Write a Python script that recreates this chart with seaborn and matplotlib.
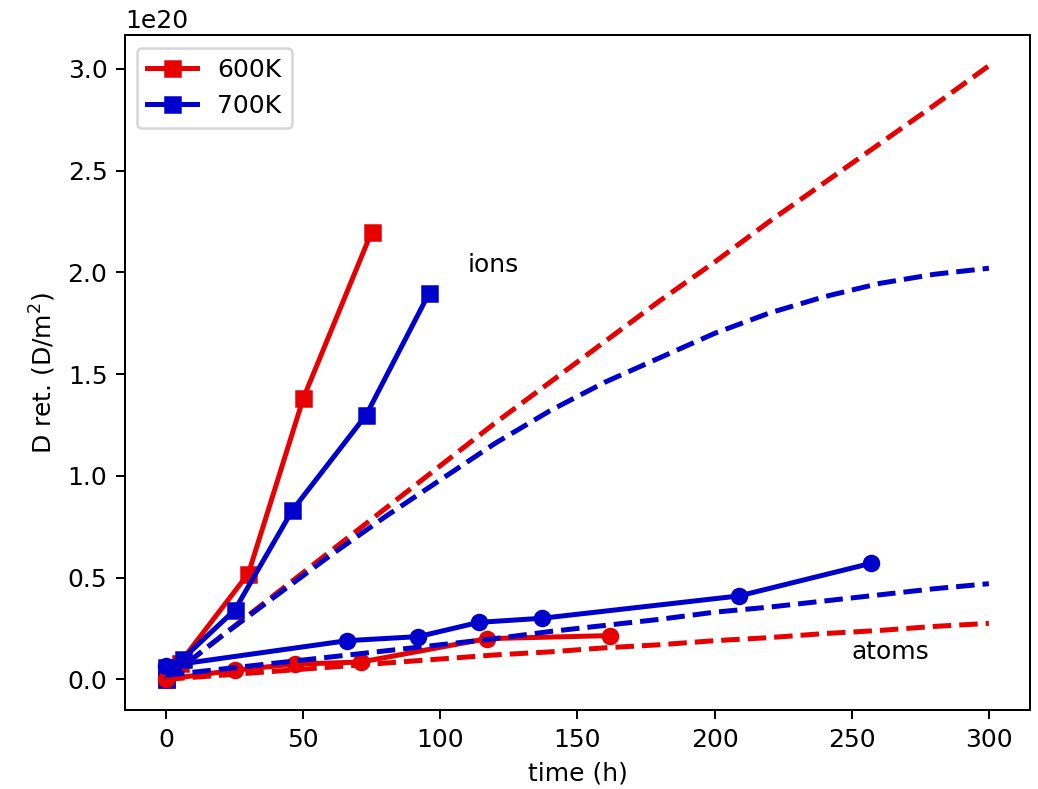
import matplotlib
matplotlib.use("Agg")
import matplotlib.pyplot as plt
import seaborn as sns
import pandas as pd

RED = "#e60000"
BLUE = "#0000cc"
SCALE = 1e20

# Measured retention, ion exposure (squares)
ions_600_t = [0, 5, 30, 50, 75]
ions_600_d = [0.0, 0.08, 0.52, 1.38, 2.20]
ions_700_t = [0, 0, 6, 25, 46, 73, 96]
ions_700_d = [0.0, 0.06, 0.10, 0.34, 0.83, 1.30, 1.90]

# Measured retention, atom exposure (circles)
atoms_600_t = [0, 25, 47, 71, 117, 162]
atoms_600_d = [0.0, 0.045, 0.075, 0.085, 0.20, 0.215]
atoms_700_t = [0, 66, 92, 114, 137, 209, 257]
atoms_700_d = [0.065, 0.19, 0.21, 0.28, 0.30, 0.41, 0.57]

# Model curves (dashed)
model_t = [0, 20, 40, 60, 80, 100, 120, 140, 160, 180, 200, 220, 240, 260, 280, 300]
model_ions_600 = [0.0, 0.21, 0.42, 0.63, 0.84, 1.05, 1.26, 1.46, 1.66, 1.86,
                  2.05, 2.25, 2.44, 2.63, 2.82, 3.015]
model_ions_700 = [0.0, 0.21, 0.41, 0.61, 0.80, 0.98, 1.16, 1.32, 1.46, 1.58,
                  1.70, 1.80, 1.88, 1.945, 1.99, 2.02]
model_atoms_600 = [0.0, 0.02, 0.04, 0.06, 0.08, 0.10, 0.12, 0.135, 0.155, 0.17,
                   0.19, 0.205, 0.225, 0.24, 0.26, 0.275]
model_atoms_700 = [0.02, 0.05, 0.08, 0.11, 0.14, 0.17, 0.20, 0.235, 0.265, 0.295,
                   0.33, 0.355, 0.385, 0.415, 0.445, 0.47]

DPI = 180
fig, ax = plt.subplots(figsize=(1038 / DPI, 789 / DPI), dpi=DPI)
fig.subplots_adjust(left=0.1204, right=0.9923, top=0.9556, bottom=0.1001)


def draw(t, d, color, marker=None, ls="-", label=None):
    df = pd.DataFrame({"t": t, "d": [v * SCALE for v in d]})
    kws = dict(color=color, linestyle=ls, linewidth=2, label=label,
               sort=False, estimator=None, ax=ax, legend=False)
    if marker:
        kws.update(marker=marker, markersize=6, markeredgecolor=color,
                   markeredgewidth=1)
    sns.lineplot(data=df, x="t", y="d", **kws)


draw(ions_600_t, ions_600_d, RED, "s", label="600K")
draw(ions_700_t, ions_700_d, BLUE, "s", label="700K")
draw(atoms_600_t, atoms_600_d, RED, "o")
draw(atoms_700_t, atoms_700_d, BLUE, "o")
draw(model_t, model_ions_600, RED, ls="--")
draw(model_t, model_ions_700, BLUE, ls="--")
draw(model_t, model_atoms_600, RED, ls="--")
draw(model_t, model_atoms_700, BLUE, ls="--")

ax.text(110, 2.0 * SCALE, "ions")
ax.text(250, 0.1 * SCALE, "atoms")

ax.set_xlabel("time (h)")
ax.set_ylabel("D ret. (D/m$^2$)")
ax.legend(loc="upper left")

fig.savefig("out.png", dpi=DPI)
